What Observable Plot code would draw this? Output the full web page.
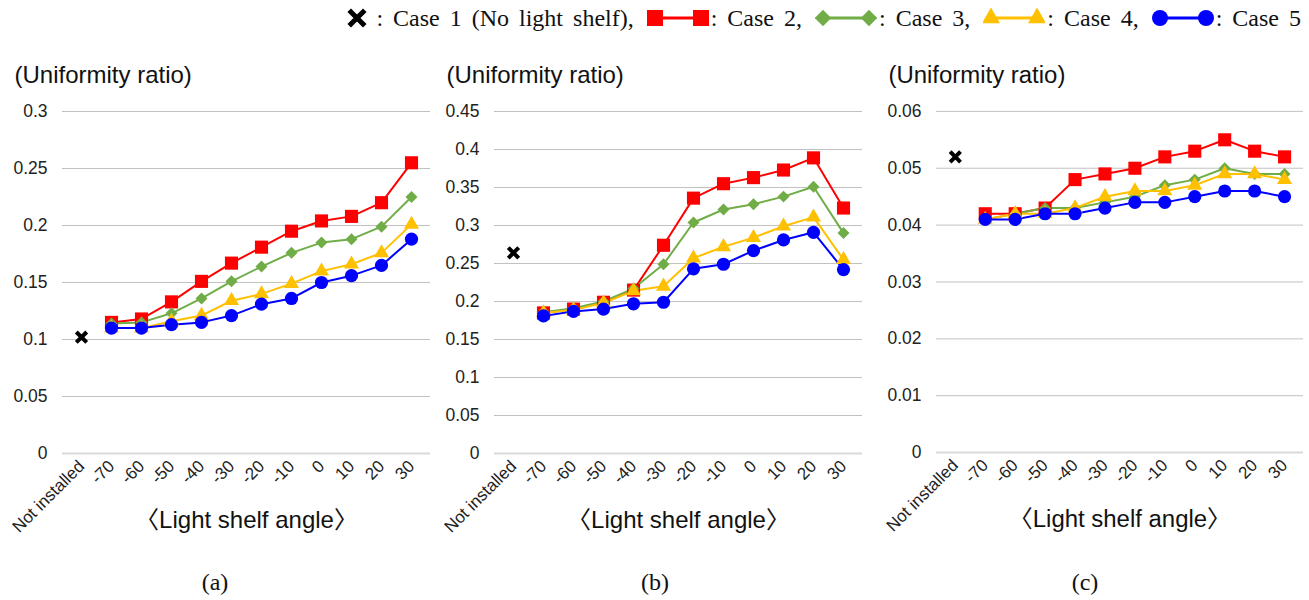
<!DOCTYPE html>
<html><head><meta charset="utf-8">
<script src="https://cdn.jsdelivr.net/npm/d3@7"></script>
<script src="https://cdn.jsdelivr.net/npm/@observablehq/plot@0.6"></script>
<style>
body{margin:0;background:#fff;width:1309px;height:600px;overflow:hidden;position:relative;font-family:"Liberation Sans",Arial,sans-serif}
#legend{position:absolute;right:8px;top:0px;height:36px;display:flex;align-items:center;font-family:"Liberation Serif","Times New Roman",serif;font-size:24px;color:#111;white-space:nowrap;word-spacing:4px}
#legend svg{display:block}
.panel{position:absolute;top:55px}
.letter{position:absolute;top:569px;width:60px;margin-left:-30px;text-align:center;font-family:"Liberation Serif","Times New Roman",serif;font-size:24px;color:#111}
</style></head><body>
<div id="legend"></div>
<div id="pa" class="panel" style="left:0px"></div>
<div id="pb" class="panel" style="left:432px"></div>
<div id="pc" class="panel" style="left:874px"></div>
<div class="letter" id="la" style="left:215px"></div>
<div class="letter" id="lb" style="left:655px"></div>
<div class="letter" id="lc" style="left:1085px"></div>
<script>
// ---- data ----
const categories = ["Not installed","-70","-60","-50","-40","-30","-20","-10","0","10","20","30"];
const angles = ["-70","-60","-50","-40","-30","-20","-10","0","10","20","30"];
const caseNames = ["Case 1 (No light shelf)","Case 2","Case 3","Case 4","Case 5"];
const caseColors = ["#000000","#ff0000","#70ad47","#ffc000","#0000ff"];
const caseSymbols = ["times","square","diamond2","triangle","circle"];
const panelLetters = ["(a)","(b)","(c)"];
const yTitle = "(Uniformity ratio)";
const xTitle = "〈Light shelf angle〉";

const yTicksA = [0,0.05,0.1,0.15,0.2,0.25,0.3];
const yTicksB = [0,0.05,0.1,0.15,0.2,0.25,0.3,0.35,0.4,0.45];
const yTicksC = [0,0.01,0.02,0.03,0.04,0.05,0.06];

// panel (a)
const case1A = 0.102;
const case2A = [0.115,0.118,0.133,0.151,0.167,0.181,0.195,0.204,0.208,0.220,0.255];
const case3A = [0.114,0.115,0.123,0.136,0.151,0.164,0.176,0.185,0.188,0.199,0.225];
const case4A = [0.110,0.110,0.116,0.121,0.134,0.140,0.149,0.160,0.166,0.176,0.201];
const case5A = [0.110,0.110,0.113,0.115,0.121,0.131,0.136,0.150,0.156,0.165,0.188];
// panel (b)
const case1B = 0.264;
const case2B = [0.185,0.190,0.199,0.215,0.274,0.336,0.355,0.363,0.373,0.389,0.323];
const case3B = [0.186,0.191,0.200,0.217,0.249,0.304,0.321,0.328,0.338,0.351,0.290];
const case4B = [0.185,0.189,0.198,0.214,0.220,0.257,0.272,0.284,0.299,0.311,0.255];
const case5B = [0.181,0.187,0.190,0.197,0.199,0.243,0.249,0.267,0.281,0.291,0.242];
// panel (c)
const case1C = 0.052;
const case2C = [0.042,0.042,0.043,0.048,0.049,0.050,0.052,0.053,0.055,0.053,0.052];
const case3C = [0.041,0.042,0.043,0.043,0.044,0.045,0.047,0.048,0.050,0.049,0.049];
const case4C = [0.041,0.042,0.042,0.043,0.045,0.046,0.046,0.047,0.049,0.049,0.048];
const case5C = [0.041,0.041,0.042,0.042,0.043,0.044,0.044,0.045,0.046,0.046,0.045];

// ---- drawing ----
const dotR = {square:7.4, diamond2:5.4, triangle:5.6, circle:6.6};

function panel(el, yTicks, c1, series) {
  const marks = [
    Plot.ruleY(yTicks.filter(t => t > 0), {stroke:"#c2c2c2", strokeWidth:1}),
    Plot.ruleY([0], {stroke:"#d9d9d9", strokeWidth:2}),
    Plot.axisY({ticks: yTicks, tickSize:0, tickPadding:15, fontSize:17.5, tickFormat: d => String(d), label:null}),
    Plot.axisX({tickSize:0, tickRotate:-45, tickPadding:10, fontSize:17, label:null}),
  ];
  series.forEach((vals, i) => {
    const k = i + 1;
    const data = angles.map((a, j) => ({a, v: vals[j]}));
    marks.push(Plot.line(data, {x:"a", y:"v", stroke: caseColors[k], strokeWidth:2}));
  });
  series.forEach((vals, i) => {
    const k = i + 1;
    const data = angles.map((a, j) => ({a, v: vals[j]}));
    marks.push(Plot.dot(data, {x:"a", y:"v", symbol: caseSymbols[k], fill: caseColors[k], r: dotR[caseSymbols[k]]}));
  });
  marks.push(Plot.dot([{a: categories[0], v: c1}], {x:"a", y:"v", symbol:"times", stroke: caseColors[0], strokeWidth:4, r:4.8}));
  marks.push(Plot.text([yTitle], {text: d => d, frameAnchor:"top-left", dx:-48, dy:-36, textAnchor:"start", lineAnchor:"middle", fontSize:24, fill:"#111"}));
  marks.push(Plot.text([xTitle], {text: d => d, frameAnchor:"bottom", dy:67, lineAnchor:"middle", fontSize:24, fill:"#111"}));
  const p = Plot.plot({
    width: 436, height: 545,
    marginLeft: 62, marginRight: 6, marginTop: 56, marginBottom: 147,
    style: {fontFamily: '"Liberation Sans", Arial, "Noto Sans CJK KR", sans-serif', color:"#222", background:"transparent", overflow:"visible"},
    x: {type:"point", domain: categories, padding: 0.5},
    y: {domain: [0, yTicks[yTicks.length - 1]]},
    marks
  });
  document.getElementById(el).appendChild(p);
}

panel("pa", yTicksA, case1A, [case2A, case3A, case4A, case5A]);
panel("pb", yTicksB, case1B, [case2B, case3B, case4B, case5B]);
panel("pc", yTicksC, case1C, [case2C, case3C, case4C, case5C]);

["la","lb","lc"].forEach((id, i) => document.getElementById(id).textContent = panelLetters[i]);

// legend
const symMap = {times: d3.symbolTimes, square: d3.symbolSquare, diamond2: d3.symbolDiamond2, triangle: d3.symbolTriangle, circle: d3.symbolCircle};
const symSize = {times:160, square:256, diamond2:170, triangle:140, circle:201};
const legend = d3.select("#legend");
caseNames.forEach((name, k) => {
  if (k === 0) {
    const s = legend.append("svg").attr("width", 24).attr("height", 24);
    s.append("path").attr("d", d3.symbol(symMap.times, symSize.times)()).attr("transform","translate(12,12)")
      .attr("stroke", caseColors[0]).attr("stroke-width", 5).attr("fill","none");
  } else {
    const s = legend.append("svg").attr("width", 62).attr("height", 24).style("margin-left","13px").style("margin-right","2px");
    s.append("line").attr("x1",8).attr("x2",54).attr("y1",12).attr("y2",12).attr("stroke", caseColors[k]).attr("stroke-width",3);
    [8,54].forEach(x => s.append("path").attr("d", d3.symbol(symMap[caseSymbols[k]], symSize[caseSymbols[k]])()).attr("transform",`translate(${x},12)`).attr("fill", caseColors[k]));
  }
  legend.append("span").style("margin-left", k === 0 ? "7px" : "0px")
    .text(": " + name + (k < caseNames.length - 1 ? "," : ""));
});
</script>
</body></html>
